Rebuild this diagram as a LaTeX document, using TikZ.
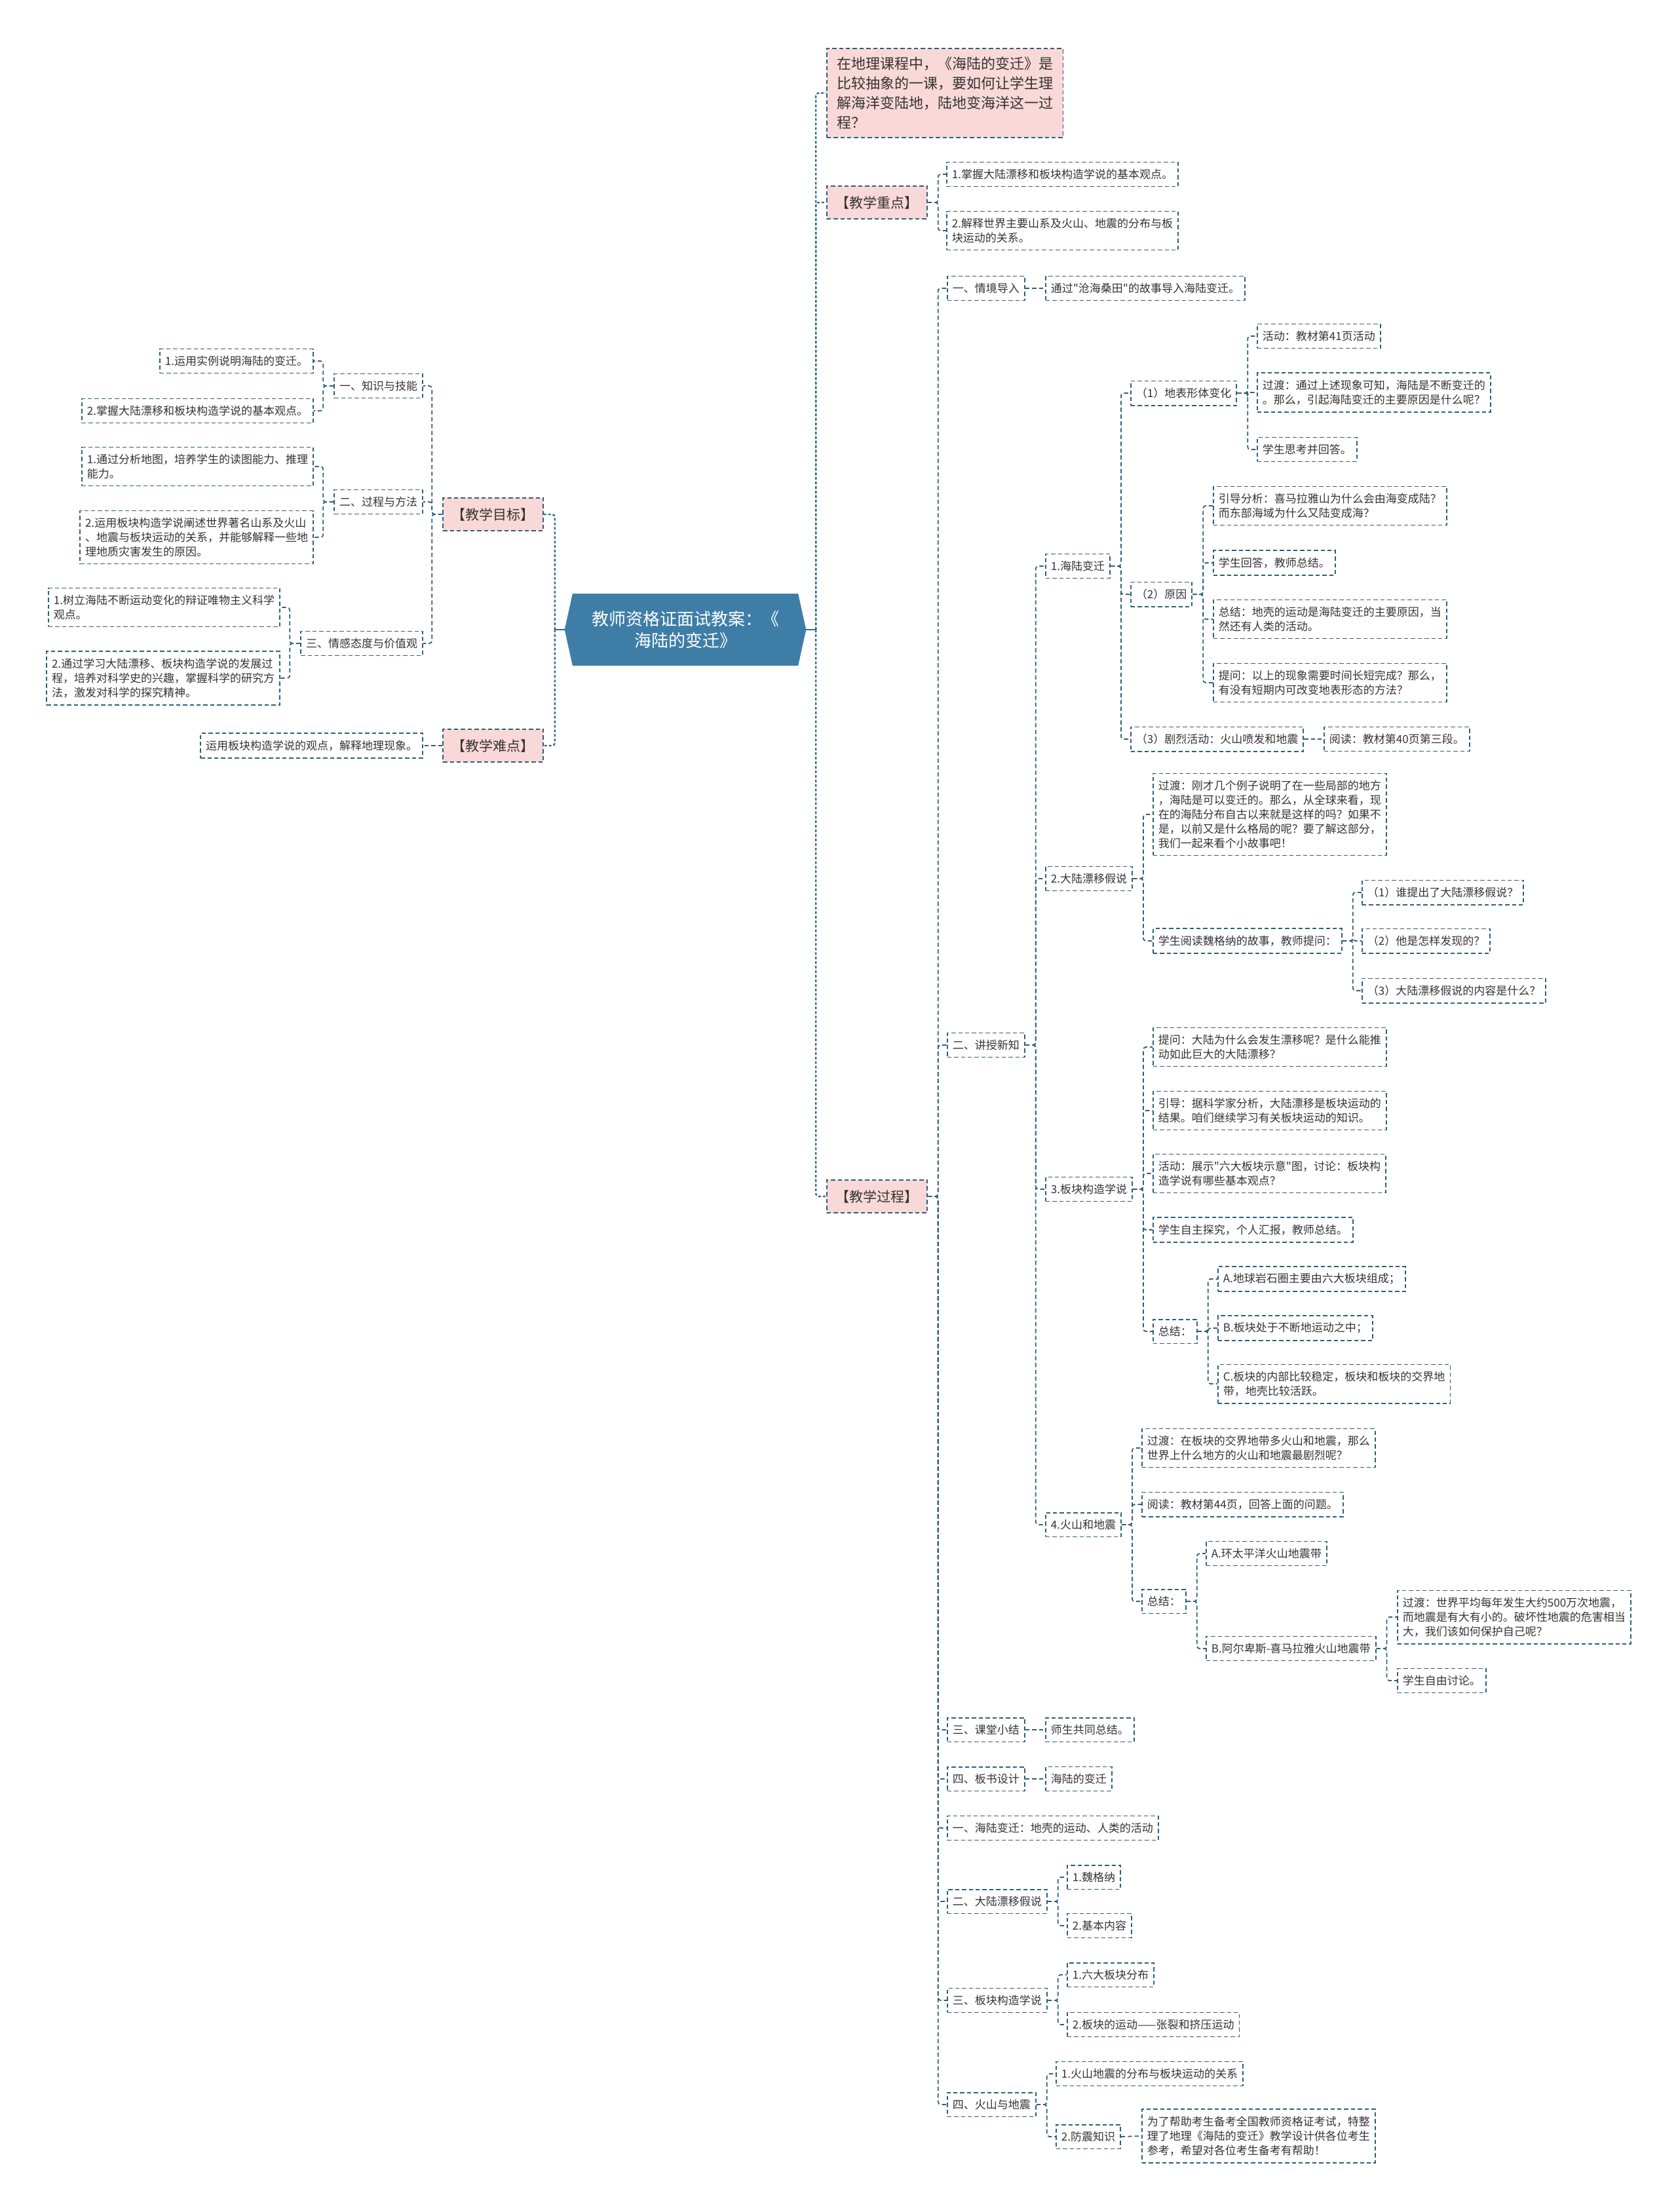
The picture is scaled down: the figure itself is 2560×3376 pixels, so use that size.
\documentclass[tikz,border=0pt]{standalone}
\usepackage{fontspec}
\newfontfamily\zhfont{Noto Sans CJK SC}
\usetikzlibrary{shapes.symbols}
\definecolor{edge}{HTML}{2E5F7D}
\definecolor{trunkc}{HTML}{2F6A8E}
\definecolor{hubfill}{HTML}{3E7EA6}
\definecolor{tagfill}{HTML}{F9D8D8}
\definecolor{ink}{HTML}{333333}

\begin{document}
\begin{tikzpicture}[x=0.75pt,y=-0.75pt,
  leaf/.style={draw=edge, line width=1.3pt, dash pattern=on 4.8pt off 3pt, fill=white, text=ink,
    align=left, inner xsep=6pt, inner ysep=7.9pt, font=\zhfont\fontsize{12.75pt}{16.5pt}\selectfont},
  rleaf/.style={leaf, anchor=west},
  lleaf/.style={leaf, anchor=east},
  tag/.style={leaf, fill=tagfill, align=center, minimum width=114.75pt, minimum height=37.5pt,
    font=\zhfont\fontsize{15.75pt}{20pt}\selectfont},
  lead/.style={leaf, anchor=west, fill=tagfill, inner xsep=11.5pt, inner ysep=9.5pt,
    font=\zhfont\fontsize{16.5pt}{22.5pt}\selectfont},
  hub/.style={signal, signal to=east and west, signal pointer angle=155, fill=hubfill, draw=hubfill,
    text=white, align=center, minimum width=276pt, minimum height=81.75pt,
    font=\zhfont\fontsize{19.5pt}{24.75pt}\selectfont},
  link/.style={draw=edge, line width=1.3pt, dash pattern=on 4.8pt off 3pt, rounded corners=3pt},
  trunk/.style={draw=trunkc, line width=1.8pt, dash pattern=on 3pt off 2.2pt, rounded corners=3pt},
  stem/.style={draw=trunkc, line width=1.6pt},
]
\fill[white] (0,0) rectangle (2560,3376);
\useasboundingbox (0,0) rectangle (2560,3376);

% root
\node[hub] (root) at (1046,961) {教师资格证面试教案：《\\海陆的变迁》};

% left half
\node[tag, anchor=east] (mb) at (830,785) {【教学目标】};
\node[lleaf] (mb1) at (646,589) {一、知识与技能};
\node[lleaf] (mb1a) at (479,551) {1.运用实例说明海陆的变迁。};
\node[lleaf] (mb1b) at (479,627) {2.掌握大陆漂移和板块构造学说的基本观点。};
\node[lleaf] (mb2) at (646,766) {二、过程与方法};
\node[lleaf] (mb2a) at (479,712) {1.通过分析地图，培养学生的读图能力、推理\\能力。};
\node[lleaf] (mb2b) at (479,820) {2.运用板块构造学说阐述世界著名山系及火山\\、地震与板块运动的关系，并能够解释一些地\\理地质灾害发生的原因。};
\node[lleaf] (mb3) at (646,982) {三、情感态度与价值观};
\node[lleaf] (mb3a) at (428,927) {1.树立海陆不断运动变化的辩证唯物主义科学\\观点。};
\node[lleaf] (mb3b) at (428,1035) {2.通过学习大陆漂移、板块构造学说的发展过\\程，培养对科学史的兴趣，掌握科学的研究方\\法，激发对科学的探究精神。};
\node[tag, anchor=east] (nd) at (830,1138) {【教学难点】};
\node[lleaf] (nd1) at (646,1138) {运用板块构造学说的观点，解释地理现象。};

% right half, top
\node[lead] (intro) at (1261,142) {在地理课程中，《海陆的变迁》是\\比较抽象的一课，要如何让学生理\\解海洋变陆地，陆地变海洋这一过\\程？};
\node[tag, anchor=west] (zd) at (1261,309) {【教学重点】};
\node[rleaf] (zd1) at (1444,266) {1.掌握大陆漂移和板块构造学说的基本观点。};
\node[rleaf] (zd2) at (1444,352) {2.解释世界主要山系及火山、地震的分布与板\\块运动的关系。};
\node[tag, anchor=west] (gc) at (1261,1826) {【教学过程】};

% lesson steps
\node[rleaf] (g1) at (1445,440) {一、情境导入};
\node[rleaf] (g1a) at (1595,440) {通过"沧海桑田"的故事导入海陆变迁。};
\node[rleaf] (g2) at (1445,1595) {二、讲授新知};
\node[rleaf] (g3) at (1445,2640) {三、课堂小结};
\node[rleaf] (g3a) at (1595,2640) {师生共同总结。};
\node[rleaf] (g4) at (1445,2715) {四、板书设计};
\node[rleaf] (g4a) at (1595,2715) {海陆的变迁};

% 1. sea and land
\node[rleaf] (s1) at (1595,864) {1.海陆变迁};
\node[rleaf] (s1a) at (1725,600) {（1）地表形体变化};
\node[rleaf] (s1a1) at (1918,513) {活动：教材第41页活动};
\node[rleaf] (s1a2) at (1918,599) {过渡：通过上述现象可知，海陆是不断变迁的\\。那么，引起海陆变迁的主要原因是什么呢？};
\node[rleaf] (s1a3) at (1918,686) {学生思考并回答。};
\node[rleaf] (s1b) at (1725,907) {（2）原因};
\node[rleaf] (s1b1) at (1851,772) {引导分析：喜马拉雅山为什么会由海变成陆？\\而东部海域为什么又陆变成海？};
\node[rleaf] (s1b2) at (1851,859) {学生回答，教师总结。};
\node[rleaf] (s1b3) at (1851,945) {总结：地壳的运动是海陆变迁的主要原因，当\\然还有人类的活动。};
\node[rleaf] (s1b4) at (1851,1042) {提问：以上的现象需要时间长短完成？那么，\\有没有短期内可改变地表形态的方法？};
\node[rleaf] (s1c) at (1725,1128) {（3）剧烈活动：火山喷发和地震};
\node[rleaf] (s1c1) at (2020,1128) {阅读：教材第40页第三段。};

% 2. drift
\node[rleaf] (s2) at (1595,1341) {2.大陆漂移假说};
\node[rleaf] (s2a) at (1759,1243) {过渡：刚才几个例子说明了在一些局部的地方\\，海陆是可以变迁的。那么，从全球来看，现\\在的海陆分布自古以来就是这样的吗？如果不\\是，以前又是什么格局的呢？要了解这部分，\\我们一起来看个小故事吧！};
\node[rleaf] (s2b) at (1759,1436) {学生阅读魏格纳的故事，教师提问：};
\node[rleaf] (s2b1) at (2078,1362) {（1）谁提出了大陆漂移假说？};
\node[rleaf] (s2b2) at (2078,1436) {（2）他是怎样发现的？};
\node[rleaf] (s2b3) at (2078,1512) {（3）大陆漂移假说的内容是什么？};

% 3. plates
\node[rleaf] (s3) at (1595,1815) {3.板块构造学说};
\node[rleaf] (s3a) at (1759,1598) {提问：大陆为什么会发生漂移呢？是什么能推\\动如此巨大的大陆漂移？};
\node[rleaf] (s3b) at (1759,1695) {引导：据科学家分析，大陆漂移是板块运动的\\结果。咱们继续学习有关板块运动的知识。};
\node[rleaf] (s3c) at (1759,1791) {活动：展示"六大板块示意"图，讨论：板块构\\造学说有哪些基本观点？};
\node[rleaf] (s3d) at (1759,1877) {学生自主探究，个人汇报，教师总结。};
\node[rleaf] (s3e) at (1759,2032) {总结：};
\node[rleaf] (s3e1) at (1858,1952) {A.地球岩石圈主要由六大板块组成；};
\node[rleaf] (s3e2) at (1858,2027) {B.板块处于不断地运动之中；};
\node[rleaf] (s3e3) at (1858,2112) {C.板块的内部比较稳定，板块和板块的交界地\\带，地壳比较活跃。};

% 4. volcanoes
\node[rleaf] (s4) at (1595,2327) {4.火山和地震};
\node[rleaf] (s4a) at (1742,2210) {过渡：在板块的交界地带多火山和地震，那么\\世界上什么地方的火山和地震最剧烈呢？};
\node[rleaf] (s4b) at (1742,2296) {阅读：教材第44页，回答上面的问题。};
\node[rleaf] (s4c) at (1742,2444) {总结：};
\node[rleaf] (s4c1) at (1840,2371) {A.环太平洋火山地震带};
\node[rleaf] (s4c2) at (1840,2516) {B.阿尔卑斯-喜马拉雅火山地震带};
\node[rleaf] (s4c2a) at (2132,2468) {过渡：世界平均每年发生大约500万次地震，\\而地震是有大有小的。破坏性地震的危害相当\\大，我们该如何保护自己呢？};
\node[rleaf] (s4c2b) at (2132,2565) {学生自由讨论。};

% board plan
\node[rleaf] (b1) at (1445,2790) {一、海陆变迁：地壳的运动、人类的活动};
\node[rleaf] (b2) at (1445,2902) {二、大陆漂移假说};
\node[rleaf] (b2a) at (1628,2865) {1.魏格纳};
\node[rleaf] (b2b) at (1628,2939) {2.基本内容};
\node[rleaf] (b3) at (1445,3053) {三、板块构造学说};
\node[rleaf] (b3a) at (1628,3014) {1.六大板块分布};
\node[rleaf] (b3b) at (1628,3090) {2.板块的运动——张裂和挤压运动};
\node[rleaf] (b4) at (1445,3212) {四、火山与地震};
\node[rleaf] (b4a) at (1611,3165) {1.火山地震的分布与板块运动的关系};
\node[rleaf] (b4b) at (1611,3261) {2.防震知识};
\node[rleaf] (b4c) at (1742,3260) {为了帮助考生备考全国教师资格证考试，特整\\理了地理《海陆的变迁》教学设计供各位考生\\参考，希望对各位考生备考有帮助！};

% trunk
\draw[stem] (root.east) -- ++(15,0) coordinate (rbus);
\draw[stem] (root.west) -- ++(-15,0) coordinate (lbus);
\foreach \k in {intro,zd,gc} \draw[trunk] (rbus) |- (\k.west);
\foreach \k in {mb,nd} \draw[trunk] (lbus) |- (\k.east);

% branches
\foreach \p/\k in {mb/mb1,mb/mb2,mb/mb3,mb1/mb1a,mb1/mb1b,mb2/mb2a,mb2/mb2b,mb3/mb3a,mb3/mb3b}
  \draw[link] (\p.west) -- ++(-16,0) |- (\k.east);
\draw[link] (nd.west) -- (nd1.east);
\foreach \p/\k in {zd/zd1,zd/zd2,
    gc/g1,gc/g2,gc/g3,gc/g4,gc/b1,gc/b2,gc/b3,gc/b4,
    g2/s1,g2/s2,g2/s3,g2/s4,
    s1/s1a,s1/s1b,s1/s1c,s1a/s1a1,s1a/s1a2,s1a/s1a3,s1b/s1b1,s1b/s1b2,s1b/s1b3,s1b/s1b4,
    s2/s2a,s2/s2b,s2b/s2b1,s2b/s2b2,s2b/s2b3,
    s3/s3a,s3/s3b,s3/s3c,s3/s3d,s3/s3e,s3e/s3e1,s3e/s3e2,s3e/s3e3,
    s4/s4a,s4/s4b,s4/s4c,s4c/s4c1,s4c/s4c2,s4c2/s4c2a,s4c2/s4c2b,
    b2/b2a,b2/b2b,b3/b3a,b3/b3b,b4/b4a,b4/b4b}
  \draw[link] (\p.east) -- ++(16,0) |- (\k.west);
\foreach \p/\k in {g1/g1a,g3/g3a,g4/g4a,s1c/s1c1,b4b/b4c}
  \draw[link] (\p.east) -- (\k.west);
\end{tikzpicture}
\end{document}
